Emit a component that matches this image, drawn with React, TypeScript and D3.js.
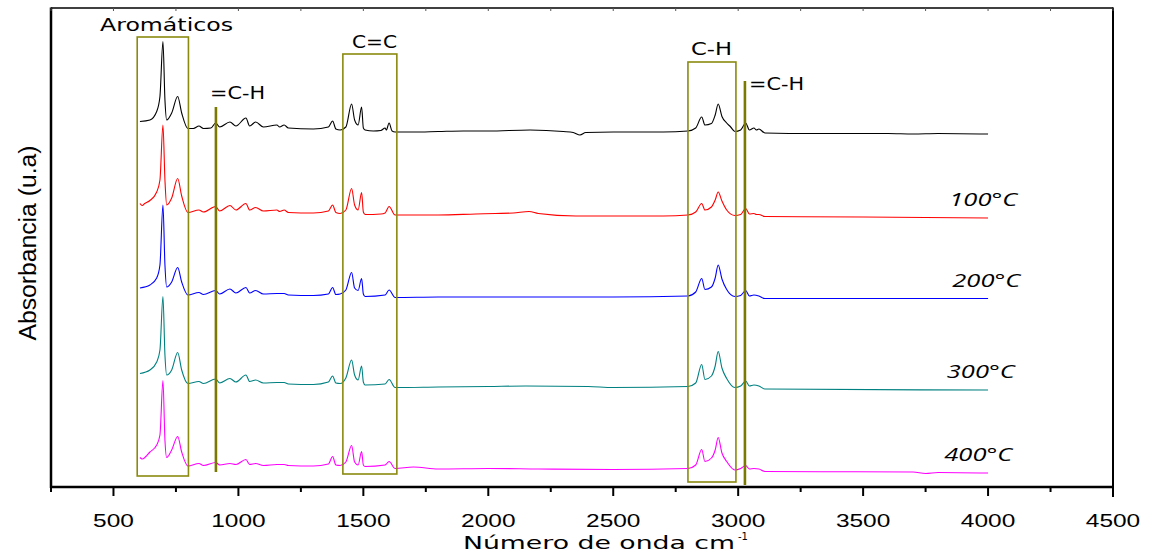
import React, { useEffect } from "react";
import * as d3 from "d3";

// ---- Data (wavenumber cm-1, absorbance a.u. with vertical offsets as in the figure) ----
const blackSeries: [number, number][] = [
  [606, 73.1], [646, 73.4], [673, 75.1], [686, 78.1], [698, 89.1], [706, 77.4], [713, 73.4],
  [733, 74.8], [757, 78.1], [773, 74.8], [798, 71.7], [820, 71.7], [842, 72.2], [860, 71.7],
  [890, 71.8], [909, 72.8], [925, 72.0], [966, 73.0], [990, 72.2], [1030, 73.8], [1045, 72.2],
  [1069, 73.0], [1100, 72.0], [1154, 72.4], [1165, 72.0], [1183, 72.4], [1200, 71.8], [1300, 71.6],
  [1360, 72.0], [1377, 73.2], [1390, 71.6], [1407, 71.4], [1430, 72.0], [1453, 76.6], [1465, 73.4],
  [1479, 72.4], [1493, 76.0], [1500, 71.8], [1507, 71.4], [1540, 71.2], [1570, 71.3], [1587, 71.8],
  [1592, 71.4], [1603, 72.8], [1615, 71.2], [1627, 71.0], [1700, 71.0], [1800, 71.1], [1900, 71.2],
  [2000, 71.2], [2167, 71.4], [2300, 71.1], [2340, 70.9], [2367, 70.4], [2390, 70.9], [2500, 71.0],
  [2700, 71.0], [2799, 71.2], [2830, 71.8], [2854, 74.0], [2867, 72.4], [2893, 72.7], [2908, 74.4],
  [2920, 76.6], [2935, 74.1], [2954, 72.8], [2970, 72.0], [2987, 71.1], [3010, 71.4], [3030, 72.8],
  [3045, 71.4], [3063, 71.8], [3073, 71.4], [3083, 71.6], [3107, 70.8], [3300, 70.7], [3600, 70.7],
  [3700, 70.6], [3800, 70.7], [4000, 70.6],
];

const redSeries: [number, number][] = [
  [606, 56.7], [615, 56.3], [625, 56.7], [646, 57.3], [673, 59.0], [686, 61.4], [698, 72.4], [706, 61.4],
  [713, 56.4], [733, 57.8], [757, 61.7], [773, 58.2], [798, 54.9], [842, 55.4], [860, 55.0], [909, 56.1],
  [925, 55.2], [966, 56.3], [990, 55.4], [1030, 56.7], [1045, 55.4], [1069, 55.9], [1100, 55.2],
  [1154, 55.4], [1165, 55.1], [1183, 55.4], [1200, 54.9], [1300, 54.8], [1360, 55.2], [1377, 56.4],
  [1390, 54.9], [1407, 54.7], [1430, 55.4], [1453, 59.7], [1465, 56.4], [1479, 55.4], [1493, 58.9],
  [1500, 55.0], [1507, 54.5], [1570, 54.6], [1587, 54.8], [1603, 56.1], [1627, 54.4], [1800, 54.4],
  [1950, 54.6], [2028, 54.7], [2100, 54.8], [2163, 55.1], [2200, 54.7], [2350, 54.2], [2500, 54.2],
  [2700, 54.2], [2799, 54.4], [2830, 55.0], [2854, 56.7], [2867, 55.4], [2893, 56.0], [2908, 57.4],
  [2920, 59.0], [2935, 57.2], [2954, 55.4], [2987, 54.3], [3010, 54.5], [3030, 55.7], [3045, 54.6],
  [3063, 54.7], [3073, 54.5], [3083, 54.5], [3107, 54.1], [3500, 54.0], [4000, 53.8],
];

const blueSeries: [number, number][] = [
  [606, 39.8], [646, 40.4], [673, 41.8], [686, 44.4], [698, 56.4], [706, 44.4], [713, 40.0], [733, 41.0],
  [757, 43.9], [773, 41.0], [798, 38.4], [842, 38.9], [860, 38.5], [909, 39.3], [925, 38.6], [966, 39.6],
  [990, 38.8], [1030, 39.9], [1045, 38.8], [1069, 39.3], [1100, 38.6], [1154, 38.7], [1183, 38.7],
  [1200, 38.4], [1300, 38.3], [1360, 38.6], [1377, 39.9], [1390, 38.5], [1407, 38.6], [1430, 39.4],
  [1453, 42.9], [1465, 39.8], [1479, 39.3], [1493, 41.7], [1500, 38.6], [1507, 38.1], [1587, 38.4],
  [1603, 39.4], [1627, 37.9], [1800, 38.0], [2000, 38.0], [2200, 38.0], [2500, 38.0], [2799, 38.2],
  [2830, 39.0], [2854, 41.7], [2867, 39.5], [2893, 40.0], [2908, 41.8], [2920, 44.4], [2935, 41.6],
  [2954, 39.5], [2987, 38.1], [3010, 38.3], [3030, 39.3], [3045, 38.2], [3063, 38.4], [3083, 38.2],
  [3107, 37.7], [4000, 37.7],
];

const tealSeries: [number, number][] = [
  [606, 22.7], [646, 23.4], [673, 25.0], [686, 27.4], [698, 38.1], [706, 26.4], [713, 22.4], [733, 23.4],
  [757, 26.9], [773, 23.4], [798, 20.7], [842, 21.1], [860, 20.7], [909, 21.6], [925, 20.8], [966, 21.7],
  [990, 21.0], [1030, 22.4], [1045, 21.1], [1069, 21.4], [1100, 20.8], [1154, 20.9], [1183, 20.9],
  [1200, 20.6], [1300, 20.5], [1360, 21.0], [1377, 22.2], [1390, 20.8], [1407, 20.7], [1430, 21.8],
  [1453, 25.4], [1465, 22.4], [1479, 21.4], [1493, 24.2], [1500, 21.0], [1507, 20.4], [1587, 20.6],
  [1603, 21.5], [1627, 19.9], [1800, 20.0], [2000, 20.1], [2150, 20.2], [2400, 20.1], [2500, 19.9],
  [2799, 20.1], [2830, 20.8], [2854, 24.5], [2867, 21.5], [2893, 22.2], [2908, 24.2], [2920, 27.1],
  [2935, 23.8], [2954, 21.7], [2987, 19.9], [3010, 20.2], [3030, 21.2], [3045, 20.2], [3063, 20.4],
  [3083, 20.2], [3107, 19.6], [4000, 19.4],
];

const magentaSeries: [number, number][] = [
  [606, 5.9], [615, 5.6], [646, 7.0], [673, 8.4], [686, 10.4], [698, 21.3], [706, 9.4], [713, 5.9],
  [733, 7.4], [757, 10.1], [773, 7.0], [798, 4.2], [842, 4.7], [860, 4.3], [909, 4.9], [925, 4.4],
  [966, 4.7], [990, 4.5], [1030, 5.5], [1045, 4.5], [1069, 4.7], [1100, 4.3], [1154, 4.5], [1183, 4.5],
  [1200, 4.3], [1300, 4.2], [1360, 4.6], [1377, 6.1], [1390, 4.4], [1407, 4.3], [1430, 5.0], [1453, 8.3],
  [1465, 5.0], [1479, 4.4], [1493, 7.1], [1500, 4.4], [1507, 4.1], [1587, 4.4], [1603, 5.1], [1627, 3.7],
  [1700, 4.0], [1800, 3.6], [2000, 3.7], [2200, 3.6], [2500, 3.5], [2799, 3.7], [2830, 4.4], [2854, 7.5],
  [2867, 5.1], [2893, 5.8], [2908, 7.4], [2920, 9.9], [2935, 6.8], [2954, 5.1], [2987, 3.4], [3010, 3.7],
  [3030, 4.3], [3045, 3.6], [3063, 3.7], [3083, 3.6], [3107, 3.1], [3700, 3.0], [3750, 2.7], [3800, 2.9],
  [4000, 2.8],
];

const seriesList = [blackSeries, redSeries, blueSeries, tealSeries, magentaSeries];
const seriesColors = ["#000000", "#ff0000", "#0000ff", "#008080", "#ff00ff"];

const tempLabels = ["100°C", "200°C", "300°C", "400°C"];
const tempLabelPos: [number, number][] = [[3845, 56.2], [3857, 40.0], [3835, 21.8], [3825, 5.2]];

const xMajorTicks = [500, 1000, 1500, 2000, 2500, 3000, 3500, 4000, 4500];
const xMinorTicks = [250, 750, 1250, 1750, 2250, 2750, 3250, 3750, 4250];

// annotation boxes: [wn0, wn1, v0, v1]
const boxRanges: [number, number, number, number][] = [
  [595, 800, 2.2, 90.0],
  [1418, 1634, 2.6, 86.6],
  [2799, 2991, 1.0, 85.0],
];
const boxLabels = ["Aromáticos", "C=C", "C-H"];
// single bands: [wn, v0, v1]
const bandLines: [number, number, number][] = [
  [910, 3.0, 76.0],
  [3027, 0.4, 81.2],
];

export default function App() {
  useEffect(() => {
    document.body.style.margin = "0";
    document.body.style.overflow = "hidden";
  }, []);

  const W = 1154, H = 552;
  const x = d3.scaleLinear().domain([250, 4500]).range([51, 1113]);
  const y = d3.scaleLinear().domain([0, 96]).range([487, 7]);
  const line = d3.line<[number, number]>().x(d => x(d[0])).y(d => y(d[1])).curve(d3.curveMonotoneX);

  const olive = "#8a8a10";
  const sans = "'Liberation Sans', Arial, sans-serif";
  const dv = "'DejaVu Sans', Verdana, sans-serif";

  return (
    <svg width={W} height={H} style={{ display: "block", background: "#fff" }}>
      {/* spectra */}
      {seriesList.map((s, i) => (
        <path key={i} d={line(s) || ""} fill="none" stroke={seriesColors[i]} strokeWidth={1.1} />
      ))}

      {/* annotation boxes */}
      {boxRanges.map((b, i) => (
        <rect key={"b" + i} x={x(b[0])} y={y(b[3])} width={x(b[1]) - x(b[0])} height={y(b[2]) - y(b[3])}
          fill="none" stroke={olive} strokeWidth={1.6} />
      ))}
      {bandLines.map((b, i) => (
        <line key={"l" + i} x1={x(b[0])} x2={x(b[0])} y1={y(b[1])} y2={y(b[2])} stroke="#7a7a00" strokeWidth={2.6} />
      ))}

      {/* annotation labels */}
      <text x={100} y={31} fontFamily={dv} fontSize={18} textLength={133} lengthAdjust="spacingAndGlyphs">{boxLabels[0]}</text>
      <text x={352} y={48} fontFamily={dv} fontSize={18} textLength={45} lengthAdjust="spacingAndGlyphs">{boxLabels[1]}</text>
      <text x={691} y={55} fontFamily={dv} fontSize={18} textLength={41} lengthAdjust="spacingAndGlyphs">{boxLabels[2]}</text>
      <text x={210} y={99} fontFamily={dv} fontSize={18} textLength={55} lengthAdjust="spacingAndGlyphs">=C-H</text>
      <text x={749} y={90} fontFamily={dv} fontSize={18} textLength={55} lengthAdjust="spacingAndGlyphs">=C-H</text>

      {tempLabels.map((t, i) => (
        <text key={t} x={x(tempLabelPos[i][0])} y={y(tempLabelPos[i][1])} fontFamily="'Open Sans', sans-serif"
          fontStyle="italic" fontSize={19} textLength={68} lengthAdjust="spacingAndGlyphs">{t}</text>
      ))}

      {/* frame */}
      <line x1={51} x2={1113} y1={8} y2={8} stroke="#000" strokeWidth={1.5} />
      <line x1={1113} x2={1113} y1={7.5} y2={497} stroke="#000" strokeWidth={2} />
      <line x1={51} x2={51} y1={7.5} y2={488} stroke="#000" strokeWidth={2.5} />
      <line x1={50} x2={1114} y1={487} y2={487} stroke="#000" strokeWidth={2.5} />

      {/* top inner ticks */}
      {xMajorTicks.concat(xMinorTicks).map(t => (
        <line key={"tt" + t} x1={x(t)} x2={x(t)} y1={8} y2={11} stroke="#555" strokeWidth={1} />
      ))}

      {/* bottom ticks */}
      {xMajorTicks.map(t => (
        <line key={"mt" + t} x1={x(t)} x2={x(t)} y1={487} y2={496} stroke="#000" strokeWidth={2} />
      ))}
      {xMinorTicks.map(t => (
        <line key={"nt" + t} x1={x(t)} x2={x(t)} y1={487} y2={492} stroke="#000" strokeWidth={2} />
      ))}
      {xMajorTicks.map(t => (
        <text key={"lb" + t} x={x(t)} y={527} textAnchor="middle" fontFamily={sans} fontSize={19}
          textLength={String(t).length * 13.6} lengthAdjust="spacingAndGlyphs">{t}</text>
      ))}

      {/* axis titles */}
      <text x={463} y={549} fontFamily={dv} fontSize={18} textLength={272} lengthAdjust="spacingAndGlyphs">Número de onda cm</text>
      <text x={738} y={540} fontFamily={dv} fontSize={10}>-1</text>
      <text transform="translate(36,243) rotate(-90)" textAnchor="middle" fontFamily={sans} fontSize={23}
        textLength={195} lengthAdjust="spacingAndGlyphs">Absorbancia (u.a)</text>
    </svg>
  );
}
